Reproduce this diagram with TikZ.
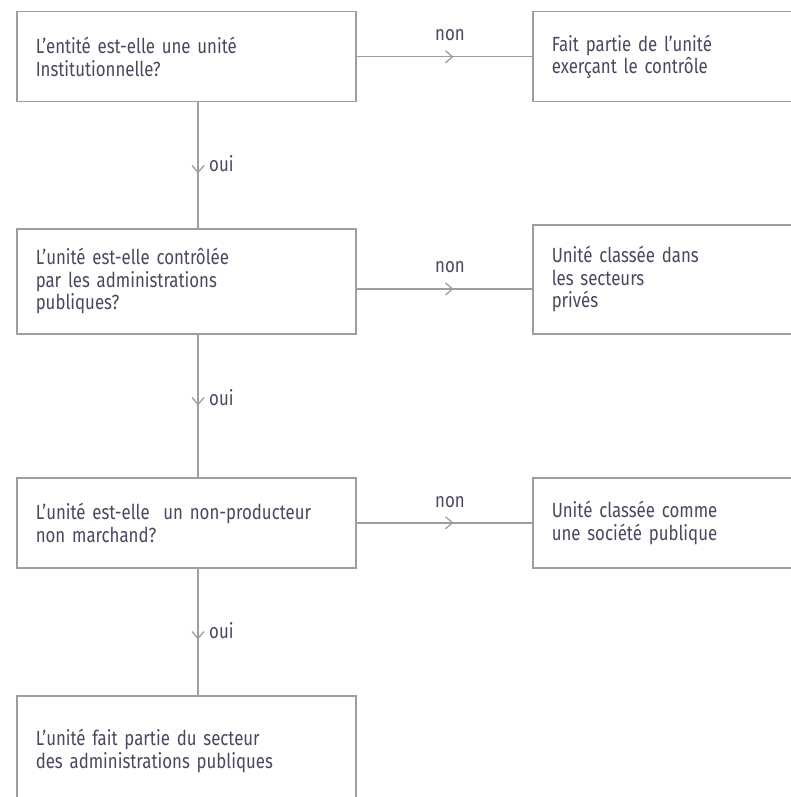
\documentclass[tikz,border=0pt]{standalone}
\usepackage{fontspec}
\setmainfont{Fira Sans}[FakeStretch=0.82]
\usetikzlibrary{arrows.meta,decorations.markings}
\definecolor{linegray}{RGB}{158,158,158}
\definecolor{txt}{RGB}{78,70,96}
\tikzset{
  box/.style={draw=linegray, line width=1.5pt, anchor=north west, inner xsep=19pt, inner ysep=0pt, align=left, text=txt, font=\fontsize{20.5}{22.5}\selectfont},
  lbox/.style={box, text width=301pt},
  rbox/.style={box, text width=400pt},
  conn/.style={draw=linegray, line width=1.5pt, postaction={decorate}, decoration={markings, mark=at position #1 with {\arrow{Straight Barb[length=7pt,width=12pt,line width=1.3pt]}}}},
  lab/.style={text=txt, font=\fontsize{20.5}{22}\selectfont, inner sep=0pt}
}
\begin{document}
\begin{tikzpicture}[x=1pt,y=-1pt]
\useasboundingbox (0,0) rectangle (791,797);
\clip (0,0) rectangle (791,797);
\fill[white] (0,0) rectangle (791,797);
% left boxes
\node[lbox, minimum height=90pt]  (q1) at (16,11)  {L'entité est-elle une unité\\Institutionnelle?};
\node[lbox, minimum height=105pt] (q2) at (16,228) {L'unité est-elle contrôlée\\par les administrations\\publiques?};
\node[lbox, minimum height=90pt]  (q3) at (16,477) {\mbox{L'unité est-elle\ \ un non-producteur}\\non marchand?};
\node[lbox, minimum height=110pt] (q4) at (16,695) {L'unité fait partie du secteur\\des administrations publiques};
% right boxes
\node[rbox, minimum height=90pt]  (r1) at (532,11)  {Fait partie de l'unité\\exerçant le contrôle};
\node[rbox, minimum height=109pt] (r2) at (532,224) {Unité classée dans\\les secteurs\\privés};
\node[rbox, minimum height=90pt]  (r3) at (532,477) {Unité classée comme\\une société publique};
% helper coordinates
\coordinate (vx) at (198,0);
\coordinate (h2) at (0,289);
% vertical connectors
\draw[conn=71pt] (q1.south -| vx) -- (q2.north -| vx);
\draw[conn=71pt] (q2.south -| vx) -- (q3.north -| vx);
\draw[conn=71pt] (q3.south -| vx) -- (q4.north -| vx);
% horizontal connectors
\draw[conn=97pt] (q1.east) -- (r1.west);
\draw[conn=97pt] (q2.east |- h2) -- (r2.west |- h2);
\draw[conn=97pt] (q3.east) -- (r3.west);
% labels
\node[lab] (n1) at (450,35)  {non};
\node[lab] (n2) at (450,267) {non};
\node[lab] (n3) at (450,502) {non};
\node[lab, anchor=west] (o1) at (209,164) {oui};
\node[lab, anchor=west] (o2) at (209,398) {oui};
\node[lab, anchor=west] (o3) at (209,631) {oui};
\end{tikzpicture}
\end{document}
